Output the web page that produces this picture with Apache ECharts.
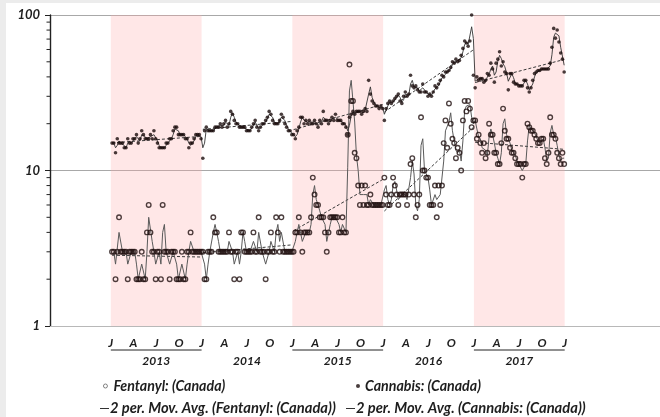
<!DOCTYPE html>
<html>
<head>
<meta charset="utf-8">
<script src="https://cdn.jsdelivr.net/npm/echarts@6/dist/echarts.min.js"></script>
<style>
  html, body { margin: 0; padding: 0; background: #fff; }
  #chart { width: 660px; height: 417px; }
</style>
</head>
<body>
<div id="chart"></div>
<script>
// weekly counts, 52 weeks per year
const years = [2013, 2014, 2015, 2016, 2017];
const shadedYears = [2013, 2015, 2017];
const quarterLetters = ["J", "A", "J", "O"];
const minorTickValues = [2, 3, 4, 5, 6, 7, 8, 9, 20, 30, 40, 50, 60, 70, 80, 90];

const fentanyl2013 = [3,3,2,3,5,3,3,3,3,2, 3,3,3,3,2,2,2,3,2,2, 4,6,4,3,3,2,3,3,2,6, 3,3,3,2,3,3,3,2,2,2, 3,2,2,3,3,4,3,3,3,3, 3,3];
const fentanyl2014 = [3,2,2,3,3,3,5,4,4,3, 3,3,3,3,3,4,3,3,2,3, 3,2,4,4,3,3,3,3,3,4, 3,3,5,3,3,3,2,3,3,4, 3,3,5,4,3,5,3,3,3,3, 3,3];
const fentanyl2015 = [3,4,4,5,4,3,4,4,4,4, 5,9,7,6,6,5,5,5,4,3, 4,5,5,5,5,5,4,4,5,4, 4,17,48,28,28,13,12,8,6,8, 6,8,6,6,7,6,6,6,6,6, 6,6];
const fentanyl2016 = [9,7,6,6,7,9,8,7,6,7, 7,7,7,6,7,11,12,7,5,6, 7,22,10,10,9,9,6,6,6,8, 5,8,6,8,15,21,14,27,20,16, 15,12,14,13,10,21,28,24,28,25, 19,21];
const fentanyl2017 = [21,16,17,15,13,15,12,13,20,17, 17,13,13,11,11,15,25,18,16,16, 14,13,13,12,11,11,11,9,11,11, 20,19,18,18,17,16,15,15,16,16, 12,11,13,22,17,17,16,13,12,11, 13,11];

const cannabis2013 = [15,15,13,16,15,15,15,14,14,16, 15,15,16,16,17,15,16,18,17,16, 16,16,17,16,18,16,15,14,14,14, 14,15,15,16,16,18,19,19,17,17, 17,17,16,16,14,15,15,16,17,17, 17,16];
const cannabis2014 = [12,18,19,18,18,18,18,19,19,19, 20,19,20,21,19,20,24,23,21,20, 20,19,19,19,19,18,18,18,19,20, 21,19,18,19,20,20,21,22,24,23, 21,20,20,20,21,23,22,20,19,18, 18,17];
const cannabis2015 = [17,16,18,19,22,22,20,21,20,21, 20,20,21,20,19,21,20,24,21,21, 20,21,22,21,23,21,21,21,20,20, 19,17,22,23,24,23,24,24,24,23, 24,25,24,38,31,28,27,26,26,25, 26,25];
const cannabis2016 = [21,25,27,28,27,28,29,30,31,28, 27,30,32,30,31,41,35,34,35,33, 32,32,36,32,32,30,31,30,32,35, 34,36,38,41,40,43,43,44,46,50, 49,52,50,51,55,61,68,66,63,68, 100,41];
const cannabis2017 = [34,40,38,39,39,37,38,42,41,49, 45,37,49,52,58,47,50,43,42,33, 42,42,37,36,36,35,35,35,38,38, 34,32,34,38,42,43,44,44,45,45, 45,45,45,49,62,82,71,80,67,57, 52,43];

const fentanylByYear = [fentanyl2013, fentanyl2014, fentanyl2015, fentanyl2016, fentanyl2017];
const cannabisByYear = [cannabis2013, cannabis2014, cannabis2015, cannabis2016, cannabis2017];

const xMin = 2012.33;
const xMax = 2019.05;
const font = "Lato, 'Open Sans', sans-serif";
const ink = "#1e1e1e";

const weekX = (year, w) => year + (w + 0.7) / 52;

function toPoints(byYear) {
	const pts = [];
	byYear.forEach((arr, i) => arr.forEach((v, w) => pts.push([weekX(years[i], w), v])));
	return pts;
}

// 2 per. moving average
function movAvg(pts) {
	const out = [];
	for (let i = 1; i < pts.length; i++) out.push([pts[i][0], (pts[i - 1][1] + pts[i][1]) / 2]);
	return out;
}

// exponential trend fitted inside one year
function trend(year, arr) {
	const xs = arr.map((v, w) => weekX(year, w) - year);
	const ys = arr.map((v) => Math.log(v));
	const n = xs.length;
	const mx = xs.reduce((a, b) => a + b, 0) / n;
	const my = ys.reduce((a, b) => a + b, 0) / n;
	let sxy = 0, sxx = 0;
	for (let i = 0; i < n; i++) {
		sxy += (xs[i] - mx) * (ys[i] - my);
		sxx += (xs[i] - mx) * (xs[i] - mx);
	}
	const b = sxy / sxx;
	const a = my - b * mx;
	return [
		[year + xs[0], Math.exp(a + b * xs[0])],
		[year + xs[n - 1], Math.exp(a + b * xs[n - 1])]
	];
}

// pick a font size so a legend label spans about the width it has in the picture
const measureCtx = document.createElement("canvas").getContext("2d");
function fitSize(text, targetWidth) {
	measureCtx.font = "italic bold 12px " + font;
	return (12 * targetWidth) / measureCtx.measureText(text).width;
}

const fentanylPts = toPoints(fentanylByYear);
const cannabisPts = toPoints(cannabisByYear);

const quarterTicks = [];
years.forEach((y) => [0, 0.25, 0.5, 0.75].forEach((q) => quarterTicks.push(y + q)));
quarterTicks.push(years[years.length - 1] + 1);
const yearMids = years.map((y) => y + 0.5);

const trendSeries = [];
years.forEach((y, i) => {
	[fentanylByYear[i], cannabisByYear[i]].forEach((arr) => {
		trendSeries.push({
			type: "line",
			silent: true,
			symbol: "none",
			z: 3,
			lineStyle: { color: "#3a3a3a", width: 1, type: [3, 2] },
			data: trend(y, arr)
		});
	});
});

const names = {
	fen: "Fentanyl: (Canada)",
	can: "Cannabis: (Canada)",
	fenMa: "2 per. Mov. Avg. (Fentanyl: (Canada))",
	canMa: "2 per. Mov. Avg. (Cannabis: (Canada))"
};

const textStyle = (size) => ({ fontFamily: font, fontWeight: "bold", fontStyle: "italic", fontSize: size, color: ink });
const row1Size = fitSize(names.can, 116);
const row2Size = fitSize(names.fenMa, 226);

const chart = echarts.init(document.getElementById("chart"));

const option = {
	animation: false,
	backgroundColor: "#fff",
	grid: { left: 50, right: 0, top: 15, bottom: 91 },
	legend: [
		{
			data: [names.fen],
			left: 98,
			top: 374,
			itemWidth: 4,
			itemHeight: 4,
			itemStyle: { borderWidth: 0.9, borderColor: "#555" },
			textStyle: Object.assign(textStyle(row1Size), { padding: [0, 0, 0, 1] })
		},
		{ data: [names.can], left: 351, top: 374, itemWidth: 4, itemHeight: 4, textStyle: textStyle(row1Size) },
		{
			data: [{ name: names.fenMa, icon: "rect" }],
			left: 95,
			top: 396,
			itemWidth: 9,
			itemHeight: 1,
			textStyle: Object.assign(textStyle(row2Size), { padding: [0, 0, 0, -4] })
		},
		{
			data: [{ name: names.canMa, icon: "rect" }],
			left: 341,
			top: 396,
			itemWidth: 9,
			itemHeight: 1,
			textStyle: Object.assign(textStyle(row2Size), { padding: [0, 0, 0, -4] })
		}
	],
	xAxis: [
		{
			type: "value",
			min: xMin,
			max: xMax,
			position: "bottom",
			axisLine: { show: true, onZero: false, lineStyle: { color: "#b8b8b8", width: 1 } },
			axisTick: { show: false },
			splitLine: { show: false },
			axisLabel: {
				customValues: quarterTicks,
				margin: 11,
				fontFamily: font,
				fontWeight: "bold",
				fontStyle: "italic",
				fontSize: 12,
				color: ink,
				formatter: (v) => quarterLetters[Math.round((v - Math.floor(v)) * 4) % 4]
			}
		},
		{
			type: "value",
			min: xMin,
			max: xMax,
			position: "bottom",
			offset: 18,
			axisLine: { show: false },
			axisTick: { show: false },
			splitLine: { show: false },
			axisLabel: {
				customValues: yearMids,
				margin: 11,
				fontFamily: font,
				fontWeight: "bold",
				fontStyle: "italic",
				fontSize: 12,
				color: ink,
				formatter: (v) => String(Math.floor(v))
			}
		}
	],
	yAxis: {
		type: "log",
		logBase: 10,
		min: 1,
		max: 100,
		axisLine: { show: true, lineStyle: { color: "#222", width: 1.4 } },
		axisTick: { show: true, length: 5, lineStyle: { color: "#222" } },
		minorTick: { show: false },
		splitLine: { show: true, lineStyle: { color: "#a8a8a8", width: 1 } },
		axisLabel: { margin: 10, fontFamily: font, fontWeight: "bold", fontStyle: "italic", fontSize: 13, color: ink }
	},
	series: [
		{
			// shaded years
			type: "custom",
			silent: true,
			z: 1,
			data: shadedYears,
			renderItem: (params, api) => {
				const y0 = api.value(0);
				const p1 = api.coord([y0, 100]);
				const p2 = api.coord([y0 + 1, 1]);
				return {
					type: "rect",
					shape: { x: p1[0], y: p1[1], width: p2[0] - p1[0], height: p2[1] - p1[1] },
					style: { fill: "rgba(255,170,170,0.28)" }
				};
			}
		},
		{
			// log minor ticks on the y axis
			type: "custom",
			silent: true,
			clip: false,
			z: 6,
			data: minorTickValues.map((v) => [xMin, v]),
			renderItem: (params, api) => {
				const p = api.coord([api.value(0), api.value(1)]);
				return {
					type: "line",
					shape: { x1: p[0] - 3.5, y1: p[1], x2: p[0], y2: p[1] },
					style: { stroke: "#222", lineWidth: 1 }
				};
			}
		},
		{
			name: names.fen,
			type: "scatter",
			symbol: "circle",
			symbolSize: 4.6,
			z: 5,
			itemStyle: { color: "rgba(0,0,0,0)", borderColor: "#201010", borderWidth: 1.35 },
			data: fentanylPts
		},
		{
			name: names.can,
			type: "scatter",
			symbol: "circle",
			symbolSize: 3.6,
			z: 5,
			itemStyle: { color: "#1a0c0c" },
			data: cannabisPts
		},
		{
			name: names.fenMa,
			type: "line",
			symbol: "none",
			z: 4,
			color: "#333",
			lineStyle: { color: "#5a5a5a", width: 1 },
			data: movAvg(fentanylPts)
		},
		{
			name: names.canMa,
			type: "line",
			symbol: "none",
			z: 4,
			color: "#333",
			lineStyle: { color: "#333", width: 0.9 },
			data: movAvg(cannabisPts)
		}
	].concat(trendSeries)
};

chart.setOption(option);

// underline the shaded years, plus the grey screenshot edge
const baseY = chart.convertToPixel({ yAxisIndex: 0 }, 1) + 24;
const graphics = shadedYears.map((y) => ({
	type: "line",
	silent: true,
	shape: {
		x1: chart.convertToPixel({ xAxisIndex: 0 }, y),
		y1: baseY,
		x2: chart.convertToPixel({ xAxisIndex: 0 }, y + 1),
		y2: baseY
	},
	style: { stroke: "#222", lineWidth: 1 }
}));
graphics.push({ type: "rect", silent: true, shape: { x: 0, y: 0, width: 660, height: 3 }, style: { fill: "#ececec" } });
graphics.push({ type: "rect", silent: true, shape: { x: 0, y: 0, width: 6, height: 417 }, style: { fill: "#ececec" } });
chart.setOption({ graphic: graphics });
</script>
</body>
</html>
